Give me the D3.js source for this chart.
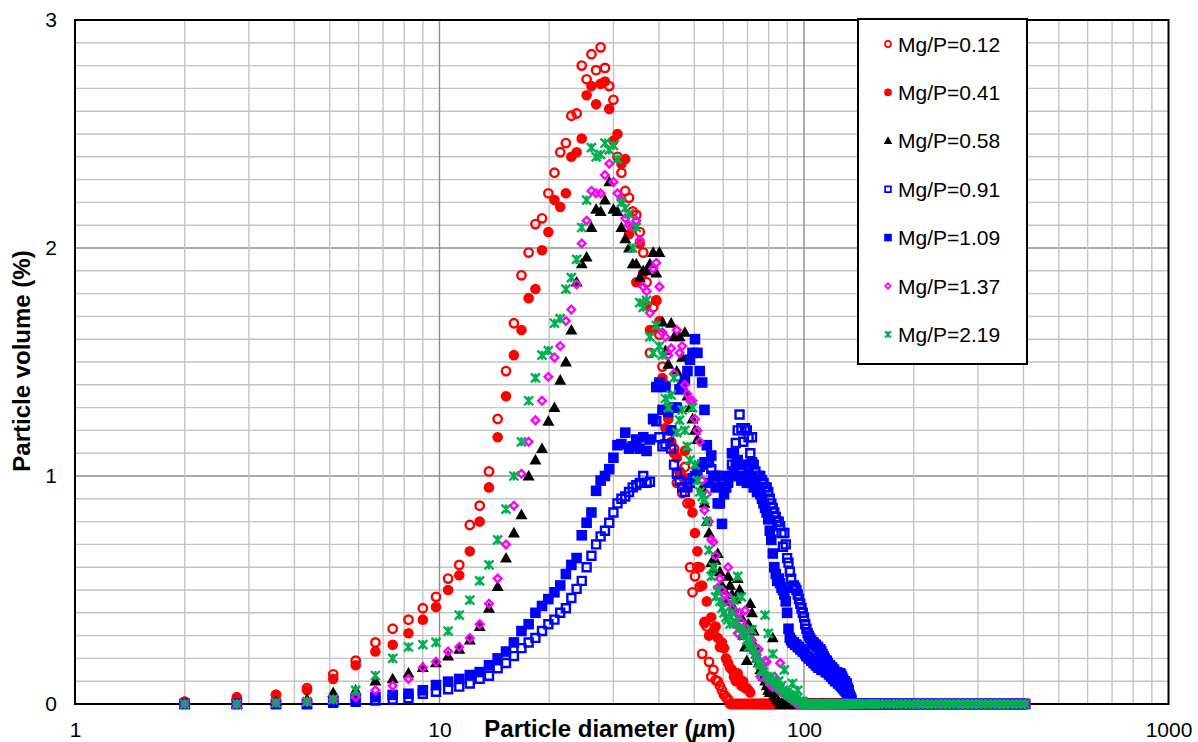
<!DOCTYPE html>
<html>
<head>
<meta charset="utf-8">
<script src="https://d3js.org/d3.v7.min.js"></script>
<style>
  body { margin: 0; background: #fff; }
  text { font-family: "Liberation Sans", Arial, sans-serif; fill: #000; }
</style>
</head>
<body>
<script>

// particle size bins (um), the analyser reports one value per bin
var diam = [
  2.00, 2.78, 3.56, 4.33, 5.11, 5.89, 6.67, 7.44, 8.22, 9.00,
  9.78, 10.56, 11.33, 12.11, 12.89, 13.67, 14.44, 15.22, 16.00, 16.78,
  17.56, 18.33, 19.11, 19.89, 20.67, 21.44, 22.22, 23.00, 23.78, 24.56,
  25.33, 26.11, 26.89, 27.67, 28.44, 29.22, 30.00, 30.78, 31.56, 32.33,
  33.11, 33.89, 34.67, 35.44, 36.22, 37.00, 37.78, 38.56, 39.33, 40.11,
  40.89, 41.67, 42.44, 43.22, 44.00, 44.78, 45.56, 46.33, 47.11, 47.89,
  48.67, 49.44, 50.22, 51.00, 51.78, 52.56, 53.33, 54.11, 54.89, 55.67,
  56.44, 57.22, 58.00, 58.78, 59.56, 60.33, 61.11, 61.89, 62.67, 63.44,
  64.22, 65.00, 65.78, 66.56, 67.33, 68.11, 68.89, 69.67, 70.44, 71.22,
  72.00, 72.78, 73.56, 74.33, 75.11, 75.89, 76.67, 77.44, 78.22, 79.00,
  79.78, 80.56, 81.33, 82.11, 82.89, 83.67, 84.44, 85.22, 86.00, 86.78,
  87.56, 88.33, 89.11, 89.89, 90.67, 91.44, 92.22, 93.00, 93.78, 94.56,
  95.33, 96.11, 96.89, 97.67, 98.44, 99.22, 100.00, 100.78, 101.56, 102.33,
  103.11, 103.89, 104.67, 105.44, 106.22, 107.00, 107.78, 108.56, 109.33, 110.11,
  110.89, 111.67, 112.44, 113.22, 114.00, 114.78, 115.56, 116.33, 117.11, 117.89,
  118.67, 119.44, 120.22, 121.00, 121.78, 122.56, 123.33, 124.11, 124.89, 125.67,
  126.44, 127.22, 128.00, 128.78, 129.56, 130.33, 131.11, 131.89, 132.67, 133.44,
  134.22, 135.00
];

// coarser bins of the empty range, every series reads 0 there
var tailDiam = [136, 138, 140, 142, 145, 148, 151, 154, 157, 160, 164, 168, 172, 176,
  180, 185, 190, 195, 200, 206, 212, 218, 224, 230, 237, 244, 251, 258, 265, 273,
  281, 289, 297, 306, 315, 324, 333, 343, 353, 363, 373, 383, 393, 404];

// particle volume (%) per bin, one list per Mg/P ratio (0 after the last value)
var s012 = [
  0.01, 0.02, 0.04, 0.07, 0.13, 0.19, 0.27, 0.33, 0.37, 0.42,
  0.47, 0.55, 0.61, 0.785, 0.87, 1.02, 1.25, 1.46, 1.67, 1.88,
  1.98, 2.105, 2.13, 2.24, 2.33, 2.42, 2.46, 2.58, 2.59, 2.80,
  2.74, 2.85, 2.78, 2.88, 2.79, 2.71, 2.65, 2.40, 2.33, 2.25,
  2.22, 2.16, 2.145, 2.07, 1.98, 1.85, 1.54, 1.74, 1.77, 1.62,
  1.48, 1.40, 1.30, 1.20, 1.12, 0.97, 1.02, 0.925, 1.04, 0.88,
  0.60, 0.49, 0.56, 0.60, 0.515, 0.22, 0.355, 0.34, 0.185, 0.12,
  0.15, 0.105, 0.10, 0.08, 0.06, 0.04, 0.03, 0.02
];
var s041 = [
  0.01, 0.03, 0.04, 0.06, 0.11, 0.17, 0.23, 0.26, 0.31, 0.37,
  0.425, 0.50, 0.565, 0.67, 0.80, 0.95, 1.17, 1.35, 1.53, 1.64,
  1.78, 1.82, 1.99, 2.07, 2.21, 2.18, 2.24, 2.40, 2.42, 2.48,
  2.67, 2.71, 2.63, 2.72, 2.73, 2.61, 2.47, 2.50, 2.37, 2.39,
  2.06, 2.09, 1.85, 2.02, 1.89, 1.75, 1.64, 1.64, 1.77, 1.68,
  1.43, 1.21, 1.25, 1.15, 1.10, 1.08, 1.02, 1.00, 1.11, 0.95,
  0.88, 0.84, 0.75, 0.67, 0.60, 0.52, 0.36, 0.45, 0.30, 0.38,
  0.32, 0.34, 0.29, 0.25, 0.27, 0.245, 0.20, 0.18, 0.16, 0.15,
  0.12, 0.10, 0.135, 0.11, 0.08, 0.10, 0.07, 0.07, 0.06, 0.05
];
var s058 = [
  0, 0, 0.01, 0.02, 0.05, 0.06, 0.10, 0.11, 0.135, 0.16,
  0.18, 0.21, 0.24, 0.28, 0.34, 0.42, 0.515, 0.64, 0.75, 0.83,
  1.0, 1.07, 1.12, 1.24, 1.30, 1.42, 1.50, 1.64, 1.85, 1.93,
  1.96, 2.09, 2.17, 2.16, 2.21, 2.29, 2.17, 2.16, 2.09, 2.04,
  2.0, 1.93, 1.93, 1.87, 1.90, 1.90, 1.93, 1.98, 1.89, 1.98,
  1.675, 1.55, 1.49, 1.67, 1.61, 1.46, 1.61, 1.52, 1.63, 1.35,
  1.30, 1.25, 1.20, 1.16, 1.05, 0.95, 0.88, 0.80, 0.75, 0.62,
  0.59, 0.63, 0.66, 0.58, 0.52, 0.50, 0.45, 0.56, 0.52, 0.48,
  0.42, 0.46, 0.55, 0.50, 0.38, 0.30, 0.25, 0.19, 0.35, 0.44,
  0.40, 0.32, 0.25, 0.20, 0.18, 0.15, 0.14, 0.12, 0.10, 0.08,
  0.06, 0.05, 0.06, 0.29, 0.04, 0.03, 0.02, 0.01
];
var s091 = [
  0, 0, 0, 0, 0.005, 0.01, 0.015, 0.02, 0.025, 0.045,
  0.054, 0.065, 0.076, 0.09, 0.11, 0.124, 0.157, 0.18, 0.21, 0.245,
  0.27, 0.29, 0.32, 0.35, 0.37, 0.40, 0.42, 0.465, 0.505, 0.54,
  0.60, 0.65, 0.70, 0.735, 0.76, 0.795, 0.84, 0.88, 0.90, 0.91,
  0.93, 0.95, 0.96, 0.97, 1.0, 0.97, 0.975, 1.25, 1.24, 1.17,
  1.13, 1.14, 1.17, 1.12, 1.05, 1.01, 0.98, 0.95, 0.93, 0.95,
  0.97, 0.99, 1.0, 1.02, 1.04, 1.05, 1.06, 1.06, 1.06, 1.03,
  1.0, 1.0, 1.0, 1.0, 0.98, 0.97, 0.95, 0.97, 1.0, 1.05,
  1.10, 1.145, 1.20, 1.27, 1.21, 1.15, 1.21, 1.20, 1.17, 1.10,
  1.17, 1.05, 1.02, 1.0, 1.0, 1.0, 0.98, 0.97, 0.95, 0.95,
  0.93, 0.90, 0.88, 0.86, 0.84, 0.82, 0.80, 0.80, 0.78, 0.75,
  0.69, 0.75, 0.70, 0.64, 0.62, 0.58, 0.55, 0.51, 0.52, 0.51,
  0.50, 0.48, 0.46, 0.44, 0.42, 0.40, 0.38, 0.35, 0.33, 0.31,
  0.30, 0.29, 0.28, 0.27, 0.27, 0.26, 0.26, 0.25, 0.25, 0.24,
  0.24, 0.23, 0.22, 0.21, 0.20, 0.19, 0.19, 0.18, 0.17, 0.17,
  0.16, 0.16, 0.15, 0.15, 0.14, 0.14, 0.14, 0.13, 0.13, 0.135,
  0.13, 0.12, 0.11, 0.10, 0.10, 0.09, 0.09, 0.07, 0.06, 0.04,
  0.03, 0.02
];
var s109 = [
  0, 0, 0, 0, 0.01, 0.02, 0.03, 0.04, 0.045, 0.06,
  0.083, 0.098, 0.11, 0.127, 0.14, 0.17, 0.20, 0.23, 0.27, 0.32,
  0.35, 0.40, 0.43, 0.46, 0.49, 0.52, 0.57, 0.61, 0.64, 0.74,
  0.795, 0.84, 0.935, 0.98, 1.0, 1.03, 1.08, 1.135, 1.14, 1.19,
  1.12, 1.13, 1.16, 1.12, 1.17, 1.11, 1.16, 1.25, 1.39, 1.41,
  1.29, 1.39, 1.28, 1.20, 1.30, 1.30, 1.38, 1.40, 1.42, 1.46,
  1.51, 1.54, 1.60, 1.54, 1.46, 1.41, 1.29, 1.135, 0.97, 1.09,
  1.0, 0.95, 0.88, 0.88, 0.79, 0.92, 0.95, 0.98, 1.0, 1.10,
  1.02, 1.05, 1.07, 1.0, 0.98, 1.05, 1.0, 0.97, 1.01, 0.98,
  1.06, 0.95, 0.97, 0.93, 0.95, 0.92, 0.90, 0.88, 0.86, 0.84,
  0.81, 0.76, 0.72, 0.66, 0.60, 0.57, 0.54, 0.55, 0.53, 0.51,
  0.50, 0.48, 0.45, 0.40, 0.33, 0.29, 0.28, 0.27, 0.27, 0.26,
  0.26, 0.25, 0.25, 0.24, 0.24, 0.23, 0.23, 0.22, 0.21, 0.21,
  0.20, 0.20, 0.19, 0.19, 0.18, 0.18, 0.17, 0.17, 0.16, 0.16,
  0.16, 0.15, 0.15, 0.15, 0.15, 0.14, 0.14, 0.14, 0.13, 0.13,
  0.12, 0.12, 0.11, 0.11, 0.10, 0.12, 0.10, 0.09, 0.09, 0.085,
  0.08, 0.075, 0.07, 0.065, 0.06, 0.055, 0.05, 0.045, 0.04, 0.03,
  0.02, 0.01
];
var s137 = [
  0, 0, 0.005, 0.01, 0.02, 0.03, 0.06, 0.08, 0.11, 0.16,
  0.185, 0.23, 0.25, 0.29, 0.35, 0.44, 0.55, 0.70, 0.87, 1.01,
  1.15, 1.245, 1.33, 1.435, 1.52, 1.57, 1.68, 1.73, 1.84, 2.02,
  2.12, 2.25, 2.24, 2.24, 2.32, 2.37, 2.29, 2.24, 2.21, 2.13,
  2.10, 2.09, 2.12, 2.035, 1.83, 1.81, 1.715, 1.91, 1.935, 1.83,
  1.63, 1.61, 1.53, 1.56, 1.45, 1.64, 1.54, 1.57, 1.40, 1.36,
  1.33, 1.33, 1.25, 1.20, 1.15, 0.98, 0.85, 0.92, 0.80, 0.72,
  0.71, 0.65, 0.51, 0.55, 0.50, 0.48, 0.45, 0.60, 0.465, 0.42,
  0.38, 0.35, 0.31, 0.40, 0.36, 0.30, 0.41, 0.33, 0.29, 0.27,
  0.28, 0.25, 0.22, 0.20, 0.24, 0.12, 0.16, 0.14, 0.19, 0.185,
  0.10, 0.09, 0.08, 0.075, 0.12, 0.10, 0.09, 0.06, 0.18, 0.05,
  0.06, 0.05, 0.04, 0.04, 0.03, 0.03, 0.02, 0.03, 0.02, 0.01
];
var s219 = [
  0, 0, 0.005, 0.01, 0.02, 0.06, 0.125, 0.20, 0.25, 0.26,
  0.27, 0.32, 0.39, 0.456, 0.54, 0.61, 0.72, 0.855, 1.0, 1.15,
  1.33, 1.43, 1.53, 1.55, 1.67, 1.69, 1.82, 1.87, 1.95, 2.09,
  2.21, 2.44, 2.40, 2.41, 2.46, 2.43, 2.45, 2.39, 2.20, 2.175,
  2.15, 2.0, 2.09, 1.76, 1.74, 1.77, 1.61, 1.54, 1.66, 1.57,
  1.53, 1.34, 1.30, 1.355, 1.43, 1.19, 1.245, 1.29, 1.20, 1.13,
  1.07, 1.30, 1.05, 0.98, 0.93, 0.91, 0.895, 0.80, 0.675, 0.56,
  0.60, 0.47, 0.50, 0.45, 0.42, 0.40, 0.38, 0.37, 0.35, 0.40,
  0.455, 0.36, 0.56, 0.33, 0.47, 0.30, 0.32, 0.28, 0.25, 0.27,
  0.325, 0.24, 0.22, 0.20, 0.18, 0.17, 0.15, 0.14, 0.39, 0.12,
  0.31, 0.10, 0.12, 0.22, 0.10, 0.09, 0.08, 0.10, 0.07, 0.08,
  0.06, 0.15, 0.05, 0.05, 0.04, 0.04, 0.03, 0.09, 0.03, 0.02,
  0.02, 0.06, 0.01, 0.01, 0.01, 0.01
];

var seriesNames = ["Mg/P=0.12", "Mg/P=0.41", "Mg/P=0.58", "Mg/P=0.91",
                   "Mg/P=1.09", "Mg/P=1.37", "Mg/P=2.19"];
var seriesValues = [s012, s041, s058, s091, s109, s137, s219];
var seriesColors = ["#ff0000", "#ff0000", "#000000", "#0000ff", "#0000ff", "#ff00ff", "#00b050"];
var seriesShapes = ["circleOpen", "circle", "triangle", "squareOpen", "square", "diamond", "star"];

var xTicks = [1, 10, 100, 1000];
var yTicks = [0, 1, 2, 3];

//set up svg
var margin = {top: 20, left: 75};
var width = 1093.5;
var height = 684;

var svg = d3.select("body").append("svg")
  .attr("width", 1198)
  .attr("height", 742);

var g = svg.append("g")
  .attr("transform", "translate(" + margin.left + "," + margin.top + ")");

var x = d3.scaleLog().domain([1, 1000]).range([0, width]);
var y = d3.scaleLinear().domain([0, 3]).range([height, 0]);

// grid, light lines on 2..9 of every decade and every 0.1 %, darker on the labelled values
var xGrid = x.ticks().filter(function(d) { return xTicks.indexOf(d) < 0; });
var yGrid = d3.range(1, 30).map(function(d) { return d / 10; });

g.append("g").selectAll("line")
  .data(yGrid)
  .enter().append("line")
  .attr("x1", 0).attr("x2", width)
  .attr("y1", function(d) { return y(d); })
  .attr("y2", function(d) { return y(d); })
  .attr("stroke", function(d) { return Math.abs(d - Math.round(d)) < 1e-6 ? "#8c8c8c" : "#c4c4c4"; })
  .attr("stroke-width", 1.4);

g.append("g").selectAll("line")
  .data(xGrid.concat([10, 100]))
  .enter().append("line")
  .attr("y1", 0).attr("y2", height)
  .attr("x1", function(d) { return x(d); })
  .attr("x2", function(d) { return x(d); })
  .attr("stroke", function(d) { return (d === 10 || d === 100) ? "#8c8c8c" : "#c4c4c4"; })
  .attr("stroke-width", 1.4);

// plot frame
g.append("rect")
  .attr("width", width)
  .attr("height", height)
  .attr("fill", "none")
  .attr("stroke", "#000")
  .attr("stroke-width", 2);

// axes, labels only
var yAxis = d3.axisLeft(y).tickValues(yTicks).tickSize(0).tickPadding(18).tickFormat(d3.format("d"));
var xAxis = d3.axisBottom(x).tickValues(xTicks).tickSize(0).tickPadding(18).tickFormat(d3.format("d"));

g.append("g").call(yAxis)
  .call(function(a) { a.select(".domain").remove(); })
  .selectAll("text").style("font-size", "21px").style("font-family", "Liberation Sans, Arial, sans-serif").attr("fill", "#000");

g.append("g").attr("transform", "translate(0," + height + ")").call(xAxis)
  .call(function(a) { a.select(".domain").remove(); })
  .selectAll("text").style("font-size", "21px").style("font-family", "Liberation Sans, Arial, sans-serif").attr("fill", "#000");

// marker shapes, k scales them down for the legend
function marker(shape, k) {
  var p;
  if (shape === "circleOpen" || shape === "circle") {
    var r = (shape === "circle" ? 5.3 : 4.2) * k;
    p = "M" + (-r) + ",0A" + r + "," + r + " 0 1,0 " + r + ",0A" + r + "," + r + " 0 1,0 " + (-r) + ",0Z";
  }
  else if (shape === "triangle") {
    p = "M0," + (-6.2 * k) + "L" + (6 * k) + "," + (4.4 * k) + "L" + (-6 * k) + "," + (4.4 * k) + "Z";
  }
  else if (shape === "squareOpen") {
    var a = 4 * k;
    p = "M" + (-a) + "," + (-a) + "H" + a + "V" + a + "H" + (-a) + "Z";
  }
  else if (shape === "square") {
    var b = 5.3 * k;
    p = "M" + (-b) + "," + (-b) + "H" + b + "V" + b + "H" + (-b) + "Z";
  }
  else if (shape === "diamond") {
    var c = 3.8 * k;
    p = "M0," + (-c) + "L" + c + ",0L0," + c + "L" + (-c) + ",0Z";
  }
  else {
    var e = 4.5 * k;
    p = "M" + (-e) + "," + (-e) + "L" + e + "," + e + "M" + (-e) + "," + e + "L" + e + "," + (-e) +
        "M0," + (-e) + "L0," + e;
  }
  return p;
}

function styleMarker(sel, i, k) {
  var shape = seriesShapes[i];
  var open = (shape === "circleOpen" || shape === "squareOpen" || shape === "diamond" || shape === "star");
  sel.attr("d", marker(shape, k))
    .attr("fill", open ? "none" : seriesColors[i])
    .attr("stroke", open ? seriesColors[i] : "none")
    .attr("stroke-width", 2.4 * k);
}

// scatter points, first series at the bottom
seriesValues.forEach(function(vals, i) {
  var pts = diam.map(function(d, j) {
    return {d: d, v: j < vals.length ? vals[j] : 0};
  });
  tailDiam.forEach(function(d) { pts.push({d: d, v: 0}); });

  g.append("g").selectAll("path")
    .data(pts)
    .enter().append("path")
    .attr("transform", function(p) { return "translate(" + x(p.d) + "," + y(p.v) + ")"; })
    .call(styleMarker, i, 1);
});

// axis titles
svg.append("text")
  .attr("x", 610)
  .attr("y", 737)
  .attr("text-anchor", "middle")
  .style("font-size", "24px")
  .style("font-weight", "bold")
  .html('Particle diameter (<tspan font-style="italic">\u00b5</tspan>m)');

svg.append("text")
  .attr("transform", "translate(30,361) rotate(-90)")
  .attr("text-anchor", "middle")
  .style("font-size", "24px")
  .style("font-weight", "bold")
  .text("Particle volume (%)");

// legend
var legend = svg.append("g");
legend.append("rect")
  .attr("x", 858).attr("y", 19)
  .attr("width", 169).attr("height", 345)
  .attr("fill", "#fff")
  .attr("stroke", "#000")
  .attr("stroke-width", 2);

seriesNames.forEach(function(name, i) {
  var ly = 44 + i * 48.4;
  legend.append("path")
    .attr("transform", "translate(888," + ly + ")")
    .call(styleMarker, i, 0.72);
  legend.append("text")
    .attr("x", 898)
    .attr("y", ly)
    .attr("dy", "0.36em")
    .style("font-size", "21px")
    .text(name);
});

</script>
</body>
</html>
